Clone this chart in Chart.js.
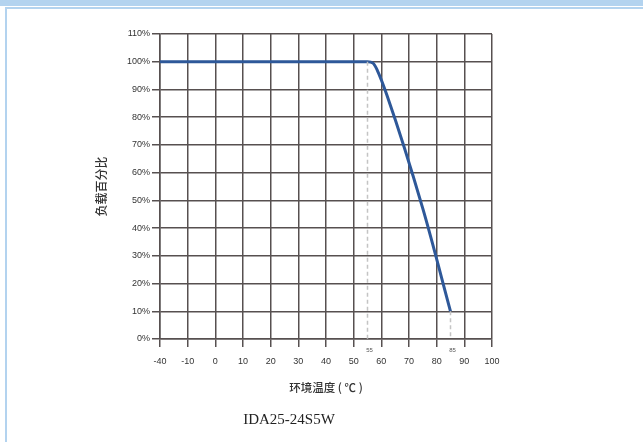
<!DOCTYPE html>
<html>
<head>
<meta charset="utf-8">
<script src="https://cdn.jsdelivr.net/npm/chart.js@4.4.1/dist/chart.umd.min.js"></script>
<style>
  body { margin: 0; width: 643px; height: 442px; position: relative; overflow: hidden; background: #fff; }
  #band { position: absolute; left: 0; top: 0; width: 643px; height: 6px; background: #b3d3ef; }
  #box { position: absolute; left: 5px; top: 7px; width: 650px; height: 450px; border-left: 2px solid #b3d3ef; border-top: 2px solid #b3d3ef; }
  #wrap { position: absolute; left: 0; top: 0; width: 643px; height: 442px; }
  #caption { position: absolute; left: 0; width: 578px; top: 411px; text-align: center;
             font-family: "Liberation Serif", "DejaVu Serif", serif; font-size: 15px; color: #222; }
</style>
</head>
<body>
<div id="band"></div>
<div id="box"></div>
<div id="wrap"><canvas id="chart"></canvas></div>
<div id="caption">IDA25-24S5W</div>
<script>
// Derating curve: load percentage vs ambient temperature
const temps = [-20, 55, 57, 58.5, 62, 75, 85];
const loads = [100, 100, 99.5, 97, 88, 47, 10];

// Dashed guide lines at 55 and 85
const mark55 = [{ x: 55, y: 100 }, { x: 55, y: 0 }];
const mark85 = [{ x: 85, y: 10 }, { x: 85, y: 0 }];
const markLabels = ['55', '85'];
const markValues = [55, 85];

// Tick labels as printed on the original chart
const xTickLabels = ['-40', '-10', '0', '10', '20', '30', '40', '50', '60', '70', '80', '90', '100'];

const gridColor = '#575050';
const tickFont = { family: 'Liberation Sans, Arial, sans-serif', size: 9 };

// Small value labels under the axis for the guide lines
const markLabelPlugin = {
  id: 'markLabels',
  afterDraw(chart) {
    const ctx = chart.ctx;
    const xs = chart.scales.x;
    const ys = chart.scales.y;
    ctx.save();
    ctx.font = '6px Liberation Sans, Arial, sans-serif';
    ctx.fillStyle = '#555';
    ctx.textAlign = 'center';
    ctx.textBaseline = 'middle';
    markValues.forEach((v, i) => {
      ctx.fillText(markLabels[i], xs.getPixelForValue(v) + 2, ys.getPixelForValue(0) + 11);
    });
    ctx.restore();
  }
};

new Chart(document.getElementById('chart'), {
  type: 'line',
  data: {
    datasets: [
      {
        data: mark55,
        borderColor: '#c4c4c4',
        borderWidth: 1.5,
        borderDash: [4, 3],
        pointRadius: 0
      },
      {
        data: mark85,
        borderColor: '#c4c4c4',
        borderWidth: 1.5,
        borderDash: [4, 3],
        pointRadius: 0
      },
      {
        data: temps.map((t, i) => ({ x: t, y: loads[i] })),
        borderColor: '#2e5899',
        borderWidth: 3,
        pointRadius: 0,
        cubicInterpolationMode: 'monotone'
      }
    ]
  },
  options: {
    responsive: true,
    maintainAspectRatio: false,
    animation: false,
    layout: { padding: { left: 90, top: 34, right: 151, bottom: 43 } },
    plugins: { legend: { display: false }, tooltip: { enabled: false } },
    scales: {
      x: {
        type: 'linear',
        min: -20,
        max: 100,
        afterFit: (scale) => { scale.height = 60; },
        ticks: {
          stepSize: 10,
          padding: 9,
          color: '#333',
          font: tickFont,
          callback: (v, i) => xTickLabels[i]
        },
        grid: { color: gridColor, lineWidth: 1.5, tickLength: 8, tickColor: gridColor },
        border: { color: gridColor, width: 1.5 },
        title: {
          display: true,
          text: '环境温度 ( ℃ )',
          color: '#333',
          font: { family: 'Noto Sans CJK SC', size: 11.5, weight: '500' },
          padding: { top: 0, bottom: 4 }
        }
      },
      y: {
        min: 0,
        max: 110,
        afterFit: (scale) => { scale.width = 70; },
        ticks: {
          stepSize: 10,
          padding: 2,
          color: '#333',
          font: tickFont,
          callback: (v) => v + '%'
        },
        grid: { color: gridColor, lineWidth: 1.5, tickLength: 8, tickColor: gridColor },
        border: { color: gridColor, width: 1.5 },
        title: {
          display: true,
          text: '负载百分比',
          color: '#333',
          font: { family: 'Noto Sans CJK SC', size: 12, weight: '500' },
          padding: { top: 4, bottom: 0 }
        }
      }
    }
  },
  plugins: [markLabelPlugin]
});
</script>
</body>
</html>
